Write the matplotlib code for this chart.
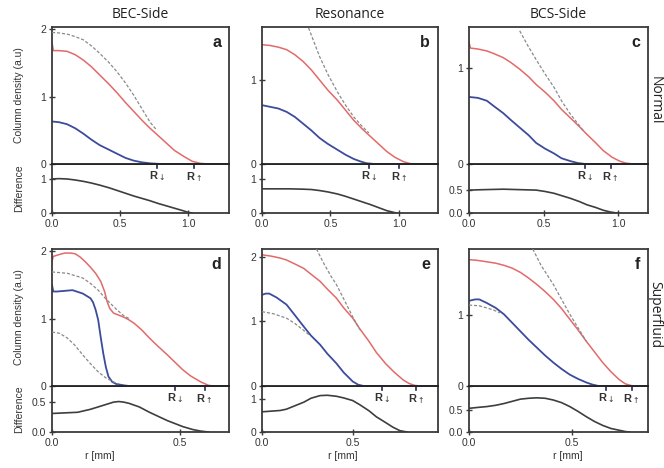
import matplotlib
matplotlib.use("Agg")
import matplotlib.pyplot as plt
import matplotlib.transforms as mtransforms

W, H = 664, 468

# ---------------- data ----------------
titles = ["BEC-Side", "Resonance", "BCS-Side"]
row_labels = ["Normal", "Superfluid"]
panel_letters = ["a", "b", "c", "d", "e", "f"]

# Panel a
a_red_r = [0.0, 0.01, 0.05, 0.11, 0.17, 0.23, 0.29, 0.35, 0.42, 0.48, 0.54, 0.60, 0.66, 0.72, 0.78,
           0.84, 0.90, 0.97, 1.03, 1.09, 1.15, 1.30]
a_red_v = [1.80, 1.68, 1.68, 1.67, 1.62, 1.54, 1.44, 1.32, 1.18, 1.05, 0.91, 0.78, 0.65, 0.53, 0.42,
           0.31, 0.20, 0.11, 0.04, 0.01, 0.0, 0.0]
a_blue_r = [0.0, 0.05, 0.11, 0.17, 0.23, 0.29, 0.35, 0.42, 0.48, 0.54, 0.60, 0.66, 0.72, 0.80, 1.30]
a_blue_v = [0.63, 0.62, 0.59, 0.53, 0.45, 0.36, 0.28, 0.21, 0.15, 0.09, 0.05, 0.025, 0.01, 0.0, 0.0]
a_fit_r = [0.0, 0.06, 0.12, 0.18, 0.23, 0.29, 0.35, 0.42, 0.48, 0.54, 0.60, 0.66, 0.72, 0.77]
a_fit_v = [1.95, 1.94, 1.92, 1.88, 1.84, 1.75, 1.64, 1.50, 1.36, 1.20, 1.02, 0.82, 0.62, 0.50]
a_diff_r = [0.0, 0.05, 0.11, 0.17, 0.23, 0.29, 0.35, 0.42, 0.48, 0.54, 0.60, 0.66, 0.72, 0.78,
            0.84, 0.90, 0.96, 1.00, 1.03]
a_diff_v = [1.00, 1.01, 1.00, 0.97, 0.93, 0.88, 0.82, 0.74, 0.66, 0.58, 0.50, 0.43, 0.36, 0.28,
            0.21, 0.14, 0.07, 0.02, 0.0]
a_R = [0.77, 1.045]

# Panel b
b_red_r = [0.0, 0.06, 0.12, 0.18, 0.24, 0.30, 0.36, 0.42, 0.48, 0.55, 0.61, 0.67, 0.73, 0.79,
           0.85, 0.91, 0.97, 1.03, 1.08, 1.12, 1.30]
b_red_v = [1.42, 1.41, 1.39, 1.36, 1.30, 1.22, 1.12, 1.00, 0.88, 0.76, 0.64, 0.52, 0.42, 0.33,
           0.24, 0.15, 0.08, 0.03, 0.005, 0.0, 0.0]
b_blue_r = [0.0, 0.06, 0.12, 0.18, 0.24, 0.30, 0.36, 0.42, 0.48, 0.55, 0.61, 0.67, 0.72, 0.76,
            0.82, 1.30]
b_blue_v = [0.70, 0.68, 0.66, 0.62, 0.56, 0.48, 0.40, 0.31, 0.24, 0.17, 0.11, 0.06, 0.03, 0.01,
            0.0, 0.0]
b_fit_r = [0.34, 0.38, 0.42, 0.48, 0.55, 0.61, 0.67, 0.73, 0.78]
b_fit_v = [1.62, 1.45, 1.28, 1.07, 0.86, 0.70, 0.56, 0.45, 0.37]
b_diff_r = [0.0, 0.10, 0.20, 0.30, 0.36, 0.42, 0.48, 0.55, 0.61, 0.67, 0.73, 0.79, 0.85, 0.91,
            0.95, 0.98]
b_diff_v = [0.71, 0.71, 0.71, 0.70, 0.69, 0.66, 0.62, 0.56, 0.49, 0.41, 0.33, 0.25, 0.16, 0.07,
            0.03, 0.0]
b_R = [0.78, 1.0]

# Panel c
c_red_r = [0.0, 0.01, 0.06, 0.12, 0.17, 0.23, 0.28, 0.34, 0.40, 0.45, 0.51, 0.57, 0.62, 0.68,
           0.74, 0.79, 0.85, 0.90, 0.96, 1.01, 1.05, 1.10, 1.20]
c_red_v = [1.27, 1.21, 1.20, 1.18, 1.15, 1.11, 1.06, 0.99, 0.91, 0.83, 0.75, 0.66, 0.57, 0.48,
           0.39, 0.31, 0.22, 0.14, 0.07, 0.03, 0.01, 0.0, 0.0]
c_blue_r = [0.0, 0.06, 0.12, 0.17, 0.23, 0.28, 0.34, 0.40, 0.45, 0.51, 0.57, 0.62, 0.68, 0.73,
            0.78, 1.20]
c_blue_v = [0.70, 0.69, 0.66, 0.60, 0.53, 0.46, 0.38, 0.30, 0.22, 0.16, 0.11, 0.06, 0.03, 0.01,
            0.0, 0.0]
c_fit_r = [0.34, 0.40, 0.45, 0.51, 0.57, 0.62, 0.68, 0.74, 0.77]
c_fit_v = [1.39, 1.22, 1.09, 0.94, 0.80, 0.66, 0.52, 0.40, 0.34]
c_diff_r = [0.0, 0.10, 0.23, 0.34, 0.45, 0.51, 0.57, 0.62, 0.68, 0.74, 0.79, 0.85, 0.90, 0.95,
            0.99]
c_diff_v = [0.50, 0.51, 0.52, 0.51, 0.50, 0.47, 0.43, 0.38, 0.32, 0.25, 0.18, 0.12, 0.06, 0.02,
            0.0]
c_R = [0.78, 0.95]

# Panel d
d_red_r = [0.0, 0.005, 0.03, 0.05, 0.07, 0.09, 0.11, 0.13, 0.15, 0.17, 0.19, 0.205, 0.215, 0.225,
           0.24, 0.26, 0.28, 0.30, 0.32, 0.35, 0.38, 0.41, 0.45, 0.48, 0.51, 0.54, 0.58, 0.61,
           0.63, 0.70]
d_red_v = [1.85, 1.92, 1.95, 1.97, 1.97, 1.96, 1.91, 1.84, 1.76, 1.67, 1.55, 1.40, 1.25, 1.15,
           1.08, 1.05, 1.02, 0.98, 0.93, 0.83, 0.71, 0.60, 0.46, 0.35, 0.24, 0.15, 0.06, 0.01,
           0.0, 0.0]
d_blue_r = [0.0, 0.005, 0.02, 0.05, 0.08, 0.12, 0.15, 0.16, 0.17, 0.18, 0.19, 0.20, 0.21, 0.22,
            0.235, 0.25, 0.28, 0.30, 0.70]
d_blue_v = [1.50, 1.40, 1.40, 1.41, 1.42, 1.37, 1.30, 1.24, 1.13, 0.98, 0.72, 0.48, 0.28, 0.14,
            0.06, 0.03, 0.01, 0.0, 0.0]
d_fit1_r = [0.0, 0.06, 0.12, 0.15, 0.18, 0.21, 0.25, 0.28, 0.30]
d_fit1_v = [1.69, 1.67, 1.60, 1.52, 1.42, 1.29, 1.14, 1.04, 1.00]
d_fit2_r = [0.0, 0.03, 0.06, 0.09, 0.12, 0.15, 0.18, 0.21, 0.24, 0.26]
d_fit2_v = [0.80, 0.78, 0.71, 0.60, 0.46, 0.33, 0.21, 0.12, 0.06, 0.03]
d_diff_r = [0.0, 0.05, 0.10, 0.15, 0.18, 0.21, 0.24, 0.26, 0.28, 0.30, 0.34, 0.38, 0.42, 0.45,
            0.48, 0.51, 0.55, 0.58, 0.61]
d_diff_v = [0.31, 0.32, 0.33, 0.38, 0.42, 0.46, 0.50, 0.51, 0.50, 0.48, 0.42, 0.33, 0.25, 0.19,
            0.14, 0.09, 0.04, 0.015, 0.0]
d_R = [0.48, 0.595]

# Panel e
e_red_r = [0.0, 0.05, 0.10, 0.135, 0.18, 0.23, 0.27, 0.32, 0.36, 0.41, 0.45, 0.50, 0.54, 0.59,
           0.63, 0.68, 0.73, 0.78, 0.81, 0.84, 0.87, 0.97]
e_red_v = [2.03, 2.01, 1.98, 1.95, 1.89, 1.82, 1.73, 1.62, 1.50, 1.36, 1.21, 1.05, 0.88, 0.69,
           0.52, 0.35, 0.21, 0.09, 0.04, 0.01, 0.0, 0.0]
e_blue_r = [0.0, 0.02, 0.04, 0.08, 0.135, 0.18, 0.23, 0.27, 0.32, 0.36, 0.41, 0.45, 0.50, 0.53,
            0.56, 0.97]
e_blue_v = [1.41, 1.43, 1.43, 1.37, 1.26, 1.10, 0.92, 0.78, 0.64, 0.50, 0.35, 0.21, 0.07, 0.02,
            0.0, 0.0]
e_fit1_r = [0.30, 0.34, 0.38, 0.41, 0.45, 0.50, 0.54]
e_fit1_v = [2.12, 1.90, 1.70, 1.57, 1.35, 1.07, 0.87]
e_fit2_r = [0.0, 0.06, 0.135, 0.18, 0.23, 0.26]
e_fit2_v = [1.15, 1.12, 1.05, 0.97, 0.86, 0.79]
e_diff_r = [0.0, 0.05, 0.10, 0.135, 0.18, 0.23, 0.27, 0.32, 0.36, 0.41, 0.45, 0.50, 0.54, 0.59,
            0.63, 0.68, 0.72, 0.76, 0.80]
e_diff_v = [0.61, 0.63, 0.65, 0.69, 0.79, 0.90, 1.02, 1.10, 1.11, 1.08, 1.03, 0.95, 0.82, 0.64,
            0.46, 0.29, 0.15, 0.04, 0.0]
e_R = [0.66, 0.85]

# Panel f
f_red_r = [0.0, 0.04, 0.086, 0.13, 0.17, 0.21, 0.25, 0.29, 0.33, 0.37, 0.41, 0.45, 0.49, 0.53,
           0.57, 0.61, 0.65, 0.69, 0.73, 0.76, 0.79, 0.82, 0.87]
f_red_v = [1.78, 1.77, 1.75, 1.73, 1.70, 1.66, 1.60, 1.52, 1.43, 1.33, 1.22, 1.09, 0.94, 0.79,
           0.63, 0.48, 0.33, 0.20, 0.09, 0.03, 0.005, 0.0, 0.0]
f_blue_r = [0.0, 0.03, 0.05, 0.086, 0.13, 0.17, 0.21, 0.25, 0.29, 0.33, 0.37, 0.41, 0.45, 0.49,
            0.53, 0.57, 0.60, 0.63, 0.87]
f_blue_v = [1.20, 1.22, 1.22, 1.17, 1.10, 1.01, 0.89, 0.77, 0.65, 0.54, 0.43, 0.33, 0.24, 0.16,
            0.10, 0.05, 0.02, 0.0, 0.0]
f_fit1_r = [0.31, 0.35, 0.41, 0.45, 0.49, 0.53, 0.57]
f_fit1_v = [1.93, 1.70, 1.43, 1.22, 1.01, 0.82, 0.63]
f_fit2_r = [0.0, 0.05, 0.086, 0.12, 0.15]
f_fit2_v = [1.14, 1.13, 1.10, 1.07, 1.03]
f_diff_r = [0.0, 0.04, 0.086, 0.13, 0.17, 0.21, 0.25, 0.29, 0.33, 0.37, 0.41, 0.45, 0.49, 0.53,
            0.57, 0.61, 0.65, 0.69, 0.73, 0.76, 0.78]
f_diff_v = [0.54, 0.56, 0.58, 0.61, 0.65, 0.70, 0.75, 0.77, 0.78, 0.77, 0.73, 0.67, 0.58, 0.47,
            0.35, 0.24, 0.15, 0.08, 0.04, 0.01, 0.0]
f_R = [0.665, 0.79]

# ---------------- styling ----------------
RED = "#e26a6a"
BLUE = "#3c4b9c"
FIT = "#8a8a8a"
DIFF = "#3b403b"
SPINE = "#3a3a3a"

panels = [
    dict(red=(a_red_r, a_red_v), blue=(a_blue_r, a_blue_v), fits=[(a_fit_r, a_fit_v)],
         diff=(a_diff_r, a_diff_v), R=a_R, xlim=1.30, ylim=2.03, dlim=1.44,
         yt=[0, 1, 2], ytl=["0", "1", "2"], dt=[0, 1], dtl=["0", "1"],
         xt=[0, 0.5, 1.0], xtl=["0.0", "0.5", "1.0"]),
    dict(red=(b_red_r, b_red_v), blue=(b_blue_r, b_blue_v), fits=[(b_fit_r, b_fit_v)],
         diff=(b_diff_r, b_diff_v), R=b_R, xlim=1.285, ylim=1.63, dlim=1.44,
         yt=[0, 1], ytl=["0", "1"], dt=[0, 1], dtl=["0", "1"],
         xt=[0, 0.5, 1.0], xtl=["0.0", "0.5", "1.0"]),
    dict(red=(c_red_r, c_red_v), blue=(c_blue_r, c_blue_v), fits=[(c_fit_r, c_fit_v)],
         diff=(c_diff_r, c_diff_v), R=c_R, xlim=1.20, ylim=1.43, dlim=1.07,
         yt=[0, 1], ytl=["0", "1"], dt=[0, 0.5], dtl=["0.0", "0.5"],
         xt=[0, 0.5, 1.0], xtl=["0.0", "0.5", "1.0"]),
    dict(red=(d_red_r, d_red_v), blue=(d_blue_r, d_blue_v),
         fits=[(d_fit1_r, d_fit1_v), (d_fit2_r, d_fit2_v)],
         diff=(d_diff_r, d_diff_v), R=d_R, xlim=0.69, ylim=2.03, dlim=0.77,
         yt=[0, 1, 2], ytl=["0", "1", "2"], dt=[0, 0.5], dtl=["0.0", "0.5"],
         xt=[0, 0.5], xtl=["0.0", "0.5"]),
    dict(red=(e_red_r, e_red_v), blue=(e_blue_r, e_blue_v),
         fits=[(e_fit1_r, e_fit1_v), (e_fit2_r, e_fit2_v)],
         diff=(e_diff_r, e_diff_v), R=e_R, xlim=0.97, ylim=2.12, dlim=1.39,
         yt=[0, 1, 2], ytl=["0", "1", "2"], dt=[0, 1], dtl=["0", "1"],
         xt=[0, 0.5], xtl=["0.0", "0.5"]),
    dict(red=(f_red_r, f_red_v), blue=(f_blue_r, f_blue_v),
         fits=[(f_fit1_r, f_fit1_v), (f_fit2_r, f_fit2_v)],
         diff=(f_diff_r, f_diff_v), R=f_R, xlim=0.87, ylim=1.93, dlim=1.05,
         yt=[0, 1], ytl=["0", "1"], dt=[0, 0.5], dtl=["0.0", "0.5"],
         xt=[0, 0.5], xtl=["0.0", "0.5"]),
]

col_x = [(52, 229), (262, 438), (469, 648)]
row_y = [(27, 164, 213), (249, 386, 432)]

TICKFONT = ["Liberation Sans", "DejaVu Sans"]
LABFONT = ["Open Sans", "DejaVu Sans"]

fig = plt.figure(figsize=(W / 100, H / 100), dpi=100)


def rect(x0, x1, y0, y1):
    return [x0 / W, 1 - y1 / H, (x1 - x0) / W, (y1 - y0) / H]


for i, p in enumerate(panels):
    row, col = divmod(i, 3)
    x0, x1 = col_x[col]
    yt, ym, yb = row_y[row]
    axd = fig.add_axes(rect(x0, x1, ym, yb))
    ax = fig.add_axes(rect(x0, x1, yt, ym))

    for a in (ax, axd):
        a.set_xlim(0, p["xlim"])
        for s in a.spines.values():
            s.set_color(SPINE)
            s.set_linewidth(1.3)
        a.tick_params(direction="inout", length=5, width=1.0, color=SPINE,
                      labelsize=7.5, pad=1.5, labelcolor="#333333")

    ax.set_ylim(0, p["ylim"])
    ax.set_yticks(p["yt"])
    ax.set_yticklabels(p["ytl"], family=TICKFONT)
    ax.set_xticks([])
    ax.spines["bottom"].set_color("#222222")

    for fr, fv in p["fits"]:
        ax.plot(fr, fv, color=FIT, lw=0.9, ls=(0, (2.5, 1.5)), zorder=3)
    ax.plot(*p["red"], color=RED, lw=1.1, zorder=2)
    ax.plot(*p["blue"], color=BLUE, lw=1.3, zorder=2)

    ax.text(0.955, 0.94, panel_letters[i], transform=ax.transAxes, ha="right",
            va="top", fontsize=11.5, fontweight="bold", family=TICKFONT, color="#222222")

    axd.set_ylim(0, p["dlim"])
    axd.set_yticks(p["dt"])
    axd.set_yticklabels(p["dtl"], family=TICKFONT)
    axd.set_xticks(p["xt"])
    axd.set_xticklabels(p["xtl"], family=TICKFONT)
    axd.plot(*p["diff"], color=DIFF, lw=1.2)

    trans = mtransforms.blended_transform_factory(axd.transData, axd.transAxes)
    for k, R in enumerate(p["R"]):
        axd.plot([R, R], [1.0, 1.0 - 4 / (yb - ym)], transform=trans,
                 color="#1f2a55", lw=1.2, clip_on=False)
        arrow = r"$_{\downarrow}$" if k == 0 else r"$_{\uparrow}$"
        axd.text(R, 1.0 - 6 / (yb - ym), "R" + arrow, transform=trans,
                 ha="center", va="top", fontsize=8, fontweight="bold",
                 family=TICKFONT, color="#333333")

    if row == 0:
        fig.text((x0 + x1) / 2 / W, 1 - 14 / H, titles[col], ha="center",
                 va="center", fontsize=10, family=LABFONT, color="#222222")
    if col == 0:
        fig.text(19 / W, 1 - ((yt + ym) / 2) / H, "Column density (a.u)",
                 rotation=90, ha="center", va="center", fontsize=7.5,
                 family=TICKFONT, color="#333333")
        fig.text(19 / W, 1 - ((ym + yb) / 2) / H, "Difference",
                 rotation=90, ha="center", va="center", fontsize=7.5,
                 family=TICKFONT, color="#333333")
    if row == 1:
        lx = [100, 343, 568][col]
        fig.text(lx / W, 1 - 456 / H, "r [mm]", ha="center", va="center",
                 fontsize=7.5, family=TICKFONT, color="#333333")

fig.text(655 / W, 1 - 100 / H, row_labels[0], rotation=-90, ha="center",
         va="center", fontsize=10, family=LABFONT, color="#222222")
fig.text(655 / W, 1 - 315 / H, row_labels[1], rotation=-90, ha="center",
         va="center", fontsize=10, family=LABFONT, color="#222222")

fig.savefig("out.png", dpi=100)
